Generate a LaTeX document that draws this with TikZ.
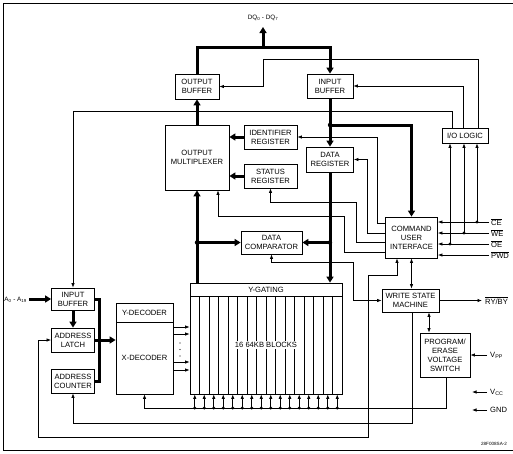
\documentclass[tikz,border=0pt]{standalone}
\usepackage{fontspec}
\setmainfont{Liberation Sans}
\usetikzlibrary{arrows.meta}
\newcommand\blkfont{\fontsize{7.6}{9}\selectfont}
\newcommand\smfont{\fontsize{6.3}{7}\selectfont}
\begin{document}
\begin{tikzpicture}[x=1pt,y=-1pt,
  box/.style={draw, line width=0.8pt, rectangle, inner sep=0pt, align=center, font=\blkfont},
  txt/.style={inner sep=0pt, font=\blkfont},
  bus/.style={line width=3pt},
  busarrow/.style={line width=3pt, -{Triangle[length=6pt,width=7pt]}},
  sig/.style={line width=0.75pt},
  sa/.style={line width=0.75pt, -{Latex[length=4.5pt,width=3.5pt]}},
  sab/.style={line width=0.75pt, {Latex[length=4.5pt,width=3.5pt]}-{Latex[length=4.5pt,width=3.5pt]}},
  dot/.style={fill=black}]
\useasboundingbox (0,0) rectangle (513,453);
% frame
\draw[sig] (513,3) -- (3,3) -- (3,450) -- (513,450);

% boxes
\node[box, minimum width=44, minimum height=25] (outbuf) at (197,86.5) {OUTPUT\\BUFFER};
\node[box, minimum width=46, minimum height=24] (inbuf) at (330,86) {INPUT\\BUFFER};
\node[box, minimum width=46, minimum height=15] (iologic) at (465,135.5) {I/O LOGIC};
\node[box, minimum width=64, minimum height=65] (outmux) at (197,157.5) {OUTPUT\\MULTIPLEXER};
\node[box, minimum width=53, minimum height=24] (idreg) at (270.5,137) {IDENTIFIER\\REGISTER};
\node[box, minimum width=53, minimum height=24] (statreg) at (270.5,176) {STATUS\\REGISTER};
\node[box, minimum width=47, minimum height=25] (datareg) at (330,159.5) {DATA\\REGISTER};
\node[box, minimum width=61, minimum height=23] (datacomp) at (271.5,242.5) {DATA\\COMPARATOR};
\node[box, minimum width=52, minimum height=41] (cui) at (411.5,237.5) {COMMAND\\USER\\INTERFACE};
\node[box, minimum width=57, minimum height=23] (wsm) at (410.5,300.5) {WRITE STATE\\MACHINE};
\node[box, minimum width=50, minimum height=44] (pevs) at (445,355) {PROGRAM/\\ERASE\\VOLTAGE\\SWITCH};
\node[box, minimum width=43, minimum height=22] (ainbuf) at (73,299) {INPUT\\BUFFER};
\node[box, minimum width=43, minimum height=24] (alatch) at (73,340) {ADDRESS\\LATCH};
\node[box, minimum width=43, minimum height=24] (acount) at (73,381) {ADDRESS\\COUNTER};

% decoder
\node[box, minimum width=57, minimum height=91] (decoder) at (144.5,348.5) {};
\draw[sig] (116,322) -- (173,322);
\node[txt] (ydec) at (144.5,312.5) {Y-DECODER};
\node[txt] (xdec) at (144.5,358) {X-DECODER};

% Y-gating and blocks
\node[box, minimum width=152, minimum height=111] (ygate) at (266,338.5) {};
\draw[sig] (190,296) -- (342,296);
\foreach \i in {1,...,15} { \draw[line width=0.6pt] ({190+9.5*\i},296) -- ({190+9.5*\i},394); }
\node[txt] (ygl) at (266,289.5) {Y-GATING};
\node[txt, fill=white, inner sep=1pt] (blk) at (266,345) {16 64KB BLOCKS};

% DQ bus
\coordinate (dqj) at (263,47);
\coordinate (dqt) at (263,27);
\node[inner sep=0pt, font=\smfont] (dq) at (263,18) {DQ\textsubscript{0} - DQ\textsubscript{7}};
\draw[busarrow] (dqj) -- (dqt);
\draw[bus] (outbuf.north) |- (dqj);
\draw[busarrow] (dqj) -| (inbuf.north);
\draw[busarrow] (outmux.north) -- (outbuf.south);
\draw[busarrow] (outmux.south |- ygate.north) -- (outmux.south);
\coordinate (lj) at (197,242.5);
\draw[busarrow] (lj) -- (lj -| datacomp.west);
\draw[busarrow] (inbuf.south) -- (datareg.north);
\draw[busarrow] (datareg.south) -- (datareg.south |- ygate.north);
\coordinate (rj) at (330,242.5);
\draw[busarrow] (rj) -- (rj -| datacomp.east);
\coordinate (cj) at (330,125);
\draw[busarrow] (cj) -| (cui.north);
\draw[busarrow] (idreg.west) -- (idreg.west -| outmux.east);
\draw[busarrow] (statreg.west) -- (statreg.west -| outmux.east);
\fill (lj) circle (2.2); \fill (rj) circle (2.2); \fill (cj) circle (2.2);

% address side
\coordinate (ain) at (29,299);
\node[inner sep=0pt, font=\smfont, anchor=east] (alab) at (27,300) {A\textsubscript{0} - A\textsubscript{19}};
\draw[busarrow] (ain) -- (ain -| ainbuf.west);
\draw[busarrow] (ainbuf.south) -- (alatch.north);
\draw[bus] (ainbuf.east) -- ++(5,0) |- (acount.east);
\draw[busarrow] (alatch.east) -- (alatch.east -| decoder.west);

% I/O logic top lines
\draw[sa] ([xshift=13pt]iologic.north) |- (263,59) |- (outbuf.east);
\draw[sa] ([xshift=-2pt]iologic.north) |- (inbuf.east);
\coordinate (aa) at (73,111);
\draw[sa] ([xshift=-13pt]iologic.north) |- (aa) -- (ainbuf.north);

% control inputs
\coordinate (ce) at (489,222);
\coordinate (we) at (489,233);
\coordinate (oe) at (489,244);
\coordinate (pwd) at (489,255);
\coordinate (x1) at (450,0);
\coordinate (x2) at (464,0);
\coordinate (x3) at (477,0);
\draw[sa] (ce) -- (ce -| cui.east);
\draw[sa] (we) -- (we -| cui.east);
\draw[sa] (oe) -- (oe -| cui.east);
\draw[sa] (pwd) -- (pwd -| cui.east);
\draw[sa] (ce -| x3) -- (x3 |- iologic.south);
\draw[sa] (we -| x2) -- (x2 |- iologic.south);
\draw[sa] (oe -| x1) -- (x1 |- iologic.south);
\fill (ce -| x3) circle (1.6); \fill (we -| x2) circle (1.6); \fill (oe -| x1) circle (1.6);
\node[txt, anchor=west] (cel) at ([xshift=2pt]ce) {$\overline{\hbox{\blkfont CE}}$};
\node[txt, anchor=west] (wel) at ([xshift=2pt]we) {$\overline{\hbox{\blkfont WE}}$};
\node[txt, anchor=west] (oel) at ([xshift=2pt]oe) {$\overline{\hbox{\blkfont OE}}$};
\node[txt, anchor=west] (pwdl) at ([xshift=2pt]pwd) {$\overline{\hbox{\blkfont PWD}}$};

% CUI to registers
\draw[sa] ([yshift=14.5pt]cui.west) -| (377,137) -- (idreg.east);
\draw[sa] ([yshift=4.5pt]cui.west) -| (367,159.5) -- (datareg.east);
\draw[sa] ([yshift=-4.5pt]cui.west) -| (356,202) -| (statreg.south);
\draw[sa] ([yshift=-14.5pt]cui.west) -| (344,216) -| ([xshift=21pt]outmux.south);

% comparator to WSM
\draw[sab] (datacomp.south) |- (353,262) |- (wsm.west);

% CUI to address latch
\draw[sab] ([xshift=-14.5pt]cui.south) |- (368,275) |- (38,437) |- (alatch.west);

% CUI - WSM
\draw[sab] (cui.south) -- (cui.south |- wsm.north);

% RY/BY
\coordinate (ry) at (482,300.5);
\draw[sa] (wsm.east) -- (ry);
\node[txt, anchor=west] (ryl) at (485,300.5) {$\overline{\hbox{\blkfont RY/BY}}$};

% WSM - PEVS
\coordinate (pw) at ([xshift=-16pt]pevs.north);
\draw[sab] (pw) -- (pw |- wsm.south);

% WSM to address counter
\coordinate (wc) at ([xshift=1.5pt]wsm.south);
\draw[sa] (wc) |- (73,423) -- (acount.south);

% PEVS to decoder and blocks
\coordinate (pb) at ([xshift=1pt]pevs.south);
\draw[sa] (pb) |- (144.5,408) -- (decoder.south);
\foreach \i in {0,...,15} {
  \coordinate (bk) at ({194.75+9.5*\i},408);
  \draw[sa] (bk) -- (bk |- ygate.south);
  \fill (bk) circle (1.6);
}

% decoder to blocks
\foreach \yy in {327,334,362,370} {
  \coordinate (dy) at (0,\yy);
  \draw[sa] (decoder.east |- dy) -- (ygate.west |- dy);
}
\fill (180,343) circle (0.6);
\fill (180,349.5) circle (0.6);
\fill (180,356) circle (0.6);

% supplies
\coordinate (vpp) at (487,355);
\draw[sa] (vpp) -- (vpp -| pevs.east);
\node[txt, anchor=west] (vppl) at (490,355) {V\textsubscript{PP}};
\coordinate (vcc) at (487,392);
\coordinate (vcce) at (472,392);
\draw[sa] (vcc) -- (vcce);
\node[txt, anchor=west] (vccl) at (490,392) {V\textsubscript{CC}};
\coordinate (gnd) at (487,410);
\coordinate (gnde) at (472,410);
\draw[sa] (gnd) -- (gnde);
\node[txt, anchor=west] (gndl) at (490,410) {GND};

\node[inner sep=0pt, font=\fontsize{4.6}{5}\selectfont] (fig) at (494,444) {28F008SA-2};
\end{tikzpicture}
\end{document}
